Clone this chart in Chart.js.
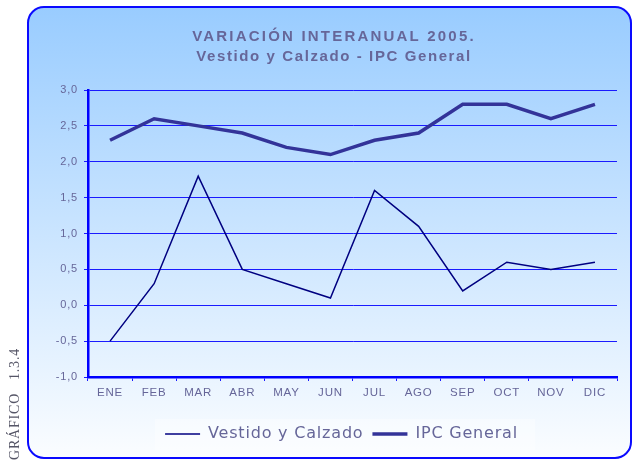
<!DOCTYPE html>
<html>
<head>
<meta charset="utf-8">
<script src="https://cdn.jsdelivr.net/npm/chart.js@4"></script>
<style>
  html, body { margin: 0; padding: 0; background: #fff; }
  #wrap { width: 634px; height: 461px; }
</style>
</head>
<body>
<div id="wrap"><canvas id="chart" width="634" height="461"></canvas></div>
<script>
const months = ['ENE', 'FEB', 'MAR', 'ABR', 'MAY', 'JUN', 'JUL', 'AGO', 'SEP', 'OCT', 'NOV', 'DIC'];
const vestidoCalzado = [-0.5, 0.3, 1.8, 0.5, 0.3, 0.1, 1.6, 1.1, 0.2, 0.6, 0.5, 0.6];
const ipcGeneral = [2.3, 2.6, 2.5, 2.4, 2.2, 2.1, 2.3, 2.4, 2.8, 2.8, 2.6, 2.8];
const titleLines = ['VARIACIÓN INTERANUAL 2005.', 'Vestido y Calzado - IPC General'];
const sideLabel = ['GRÁFICO', '1.3.4'];

const textColor = '#666699';
const gridBlue = '#1a1aff';

// rounded frame with gradient, title and the vertical label on the left
const framePlugin = {
    id: 'frame',
    beforeUpdate(chart) {
        chart.ctx.letterSpacing = '0.8px';
    },
    afterLayout(chart) {
        // legend sits a bit right of the canvas centre
        chart.legend.left += 18;
        chart.legend.right += 18;
    },
    beforeDraw(chart) {
        const ctx = chart.ctx;
        ctx.save();
        ctx.fillStyle = '#ffffff';
        ctx.fillRect(0, 0, chart.width, chart.height);

        const x = 28, y = 7, w = 603, h = 451, r = 16;
        const grad = ctx.createLinearGradient(0, y, 0, y + h);
        grad.addColorStop(0, '#99ccff');
        grad.addColorStop(1, '#fbfdff');
        ctx.beginPath();
        ctx.roundRect(x, y, w, h, r);
        ctx.fillStyle = grad;
        ctx.fill();
        ctx.lineWidth = 2;
        ctx.strokeStyle = '#0a0aff';
        ctx.stroke();

        // faint panel behind the legend
        const lg = chart.legend;
        if (lg) {
            ctx.fillStyle = 'rgba(255,255,255,0.35)';
            ctx.fillRect(155, lg.top + 2, 380, lg.height - 4);
        }

        // title
        ctx.fillStyle = textColor;
        ctx.font = 'bold 15px "Liberation Sans", Arial, sans-serif';
        ctx.textAlign = 'center';
        ctx.textBaseline = 'middle';
        ctx.letterSpacing = '2.2px';
        ctx.fillText(titleLines[0], 334, 37);
        ctx.letterSpacing = '1.6px';
        ctx.fillText(titleLines[1], 334, 57);

        // side label
        ctx.translate(15, 0);
        ctx.rotate(-Math.PI / 2);
        ctx.font = '14px "Liberation Serif", serif';
        ctx.fillStyle = '#555566';
        ctx.textAlign = 'left';
        ctx.letterSpacing = '0.8px';
        ctx.fillText(sideLabel[0], -460, 0);
        ctx.fillText(sideLabel[1], -380, 0);
        ctx.restore();
    }
};

new Chart(document.getElementById('chart'), {
    type: 'line',
    data: {
        labels: months,
        datasets: [{
            label: 'Vestido y Calzado',
            data: vestidoCalzado,
            borderColor: '#000080',
            backgroundColor: '#000080',
            borderWidth: 1.5,
            pointRadius: 0,
            tension: 0
        }, {
            label: 'IPC General',
            data: ipcGeneral,
            borderColor: '#333399',
            backgroundColor: '#333399',
            borderWidth: 3.5,
            pointRadius: 0,
            tension: 0
        }]
    },
    options: {
        responsive: false,
        animation: false,
        layout: { padding: { left: 30, right: 17, top: 90, bottom: 9 } },
        plugins: {
            title: { display: false },
            legend: {
                position: 'bottom',
                labels: {
                    color: textColor,
                    font: { family: '"DejaVu Sans", sans-serif', size: 16 },
                    usePointStyle: true,
                    pointStyle: 'line',
                    pointStyleWidth: 35,
                    boxHeight: 16,
                    padding: 9
                }
            },
            tooltip: { enabled: false }
        },
        scales: {
            x: {
                offset: true,
                afterFit(scale) { scale.height = 40; },
                grid: {
                    offset: true,
                    drawOnChartArea: false,
                    drawTicks: true,
                    tickLength: 4,
                    color: gridBlue
                },
                border: { color: '#0000ff', width: 2.5 },
                ticks: {
                    color: textColor,
                    padding: 5,
                    font: { family: '"Liberation Sans", Arial, sans-serif', size: 11.5 }
                }
            },
            y: {
                min: -1,
                max: 3,
                afterFit(scale) { scale.width = 58; },
                grid: {
                    color: gridBlue,
                    lineWidth: 1,
                    tickLength: 4
                },
                border: { color: '#0000ff', width: 2.5 },
                ticks: {
                    stepSize: 0.5,
                    color: textColor,
                    padding: 6,
                    font: { family: '"Liberation Sans", Arial, sans-serif', size: 11 },
                    callback: v => v.toFixed(1).replace('.', ',')
                }
            }
        }
    },
    plugins: [framePlugin]
});
</script>
</body>
</html>
